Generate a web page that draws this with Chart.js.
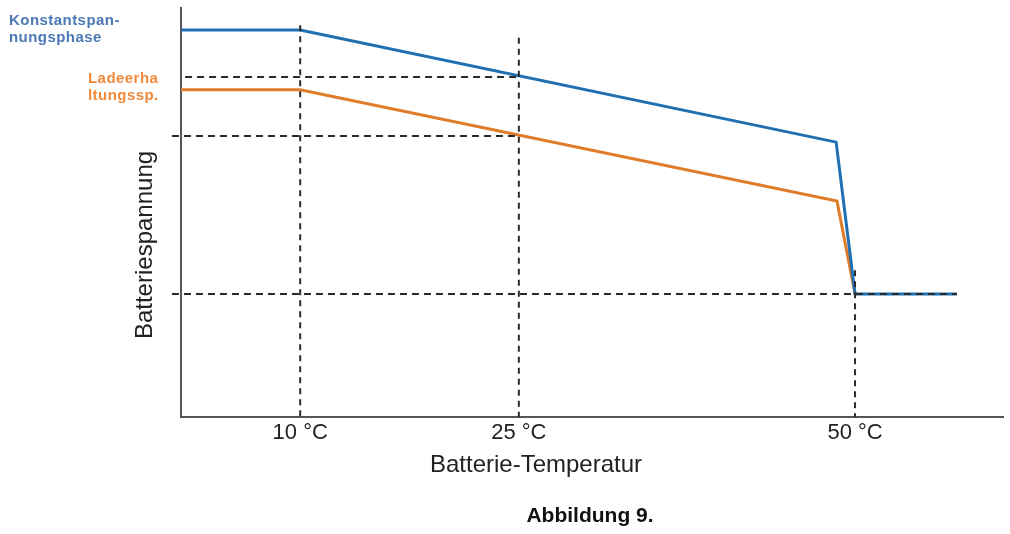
<!DOCTYPE html>
<html>
<head>
<meta charset="utf-8">
<script src="https://cdn.jsdelivr.net/npm/chart.js@4/dist/chart.umd.min.js"></script>
<style>
  html, body { margin: 0; padding: 0; background: #ffffff; }
  #wrap { width: 1010px; height: 534px; position: relative; }
</style>
</head>
<body>
<div id="wrap"><canvas id="c" width="1010" height="534"></canvas></div>
<script>
// Schematic x positions (arbitrary units, 0..100 along the temperature axis)
const tickPositions = [14.5, 41.1, 82.0];
const tickLabels = ['10 °C', '25 °C', '50 °C'];

// Constant-voltage phase (blue)
const blueX = [0, 14.5, 79.7, 82.0, 94.4];
const blueY = [94.6, 94.6, 67.2, 30.1, 30.1];

// Float charge voltage (orange)
const orangeX = [0, 14.5, 79.8, 82.0];
const orangeY = [80.0, 80.0, 52.8, 30.1];

// Dashed reference lines (horizontal): level, start x, end x
const hRefLevel = [83.1, 68.7, 30.1];
const hRefStart = [0.5, -1.1, -1.1];
const hRefEnd = [41.1, 41.1, 94.4];

// Dashed reference lines (vertical): x, top level
const vRefX = [14.5, 41.1, 82.0];
const vRefTop = [95.8, 92.7, 35.9];

const seriesNames = ['Konstantspan-\nnungsphase', 'Ladeerha\nltungssp.'];

const toPts = (xs, ys) => xs.map((x, i) => ({ x: x, y: ys[i] }));

const datasets = [];
datasets.push({
  label: 'Konstantspannungsphase',
  data: toPts(blueX, blueY),
  borderColor: '#1f6fb1',
  borderWidth: 3,
  pointRadius: 0,
  tension: 0,
  order: 2,
  clip: false
});
datasets.push({
  label: 'Ladeerhaltungsspannung',
  data: toPts(orangeX, orangeY),
  borderColor: '#e07b2a',
  borderWidth: 3,
  pointRadius: 0,
  tension: 0,
  order: 3,
  clip: false
});
hRefLevel.forEach((lv, i) => {
  datasets.push({
    label: 'h' + i,
    data: [{ x: hRefStart[i], y: lv }, { x: hRefEnd[i], y: lv }],
    borderColor: '#2b2b2b',
    borderWidth: 2,
    borderDash: [7, 5],
    pointRadius: 0,
    order: 0,
    clip: false
  });
});
vRefX.forEach((xv, i) => {
  datasets.push({
    label: 'v' + i,
    data: [{ x: xv, y: vRefTop[i] }, { x: xv, y: 0 }],
    borderColor: '#2b2b2b',
    borderWidth: 2,
    borderDash: [6, 5],
    pointRadius: 0,
    order: 0,
    clip: false
  });
});

const textPlugin = {
  id: 'texts',
  afterDraw(chart) {
    const ctx = chart.ctx;
    ctx.save();
    // Series labels
    ctx.textAlign = 'left';
    ctx.textBaseline = 'alphabetic';
    ctx.font = 'bold 15px "Liberation Sans", Arial, sans-serif';
    if ('letterSpacing' in ctx) ctx.letterSpacing = '0.45px';
    ctx.fillStyle = '#4a79b6';
    seriesNames[0].split('\n').forEach((t, i) => ctx.fillText(t, 9, 25 + i * 17));
    ctx.fillStyle = '#f0893a';
    seriesNames[1].split('\n').forEach((t, i) => ctx.fillText(t, 88, 83 + i * 17));
    if ('letterSpacing' in ctx) ctx.letterSpacing = '0px';

    // X axis title
    ctx.fillStyle = '#222222';
    ctx.font = '24px "Liberation Sans", Arial, sans-serif';
    ctx.textAlign = 'center';
    ctx.fillText('Batterie-Temperatur', 536, 472);

    // Y axis title
    ctx.save();
    ctx.translate(152, 245);
    ctx.rotate(-Math.PI / 2);
    ctx.font = '24px "Liberation Sans", Arial, sans-serif';
    ctx.fillText('Batteriespannung', 0, 0);
    ctx.restore();

    // Caption
    ctx.fillStyle = '#111111';
    ctx.font = 'bold 21px "Liberation Sans", Arial, sans-serif';
    ctx.fillText('Abbildung 9.', 590, 522);
    ctx.restore();
  }
};

new Chart(document.getElementById('c'), {
  type: 'line',
  data: { datasets: datasets },
  options: {
    responsive: false,
    animation: false,
    layout: { padding: { left: 181, right: 7, top: 8, bottom: 0 } },
    plugins: { legend: { display: false }, tooltip: { enabled: false }, title: { display: false } },
    scales: {
      x: {
        type: 'linear',
        min: 0,
        max: 100,
        grid: { display: false, drawTicks: false },
        border: { display: true, color: '#555555', width: 2 },
        afterBuildTicks: (s) => { s.ticks = tickPositions.map(v => ({ value: v })); },
        afterFit: (s) => { s.height = 117; },
        ticks: {
          autoSkip: false,
          maxRotation: 0,
          padding: 3,
          color: '#222222',
          font: { family: '"Liberation Sans", Arial, sans-serif', size: 22 },
          callback: (v) => { const i = tickPositions.indexOf(v); return i >= 0 ? tickLabels[i] : ''; }
        }
      },
      y: {
        type: 'linear',
        min: 0,
        max: 100,
        grid: { display: false, drawTicks: false },
        border: { display: true, color: '#555555', width: 2 },
        ticks: { display: false },
        afterFit: (s) => { s.width = 0; }
      }
    }
  },
  plugins: [textPlugin]
});
</script>
</body>
</html>
